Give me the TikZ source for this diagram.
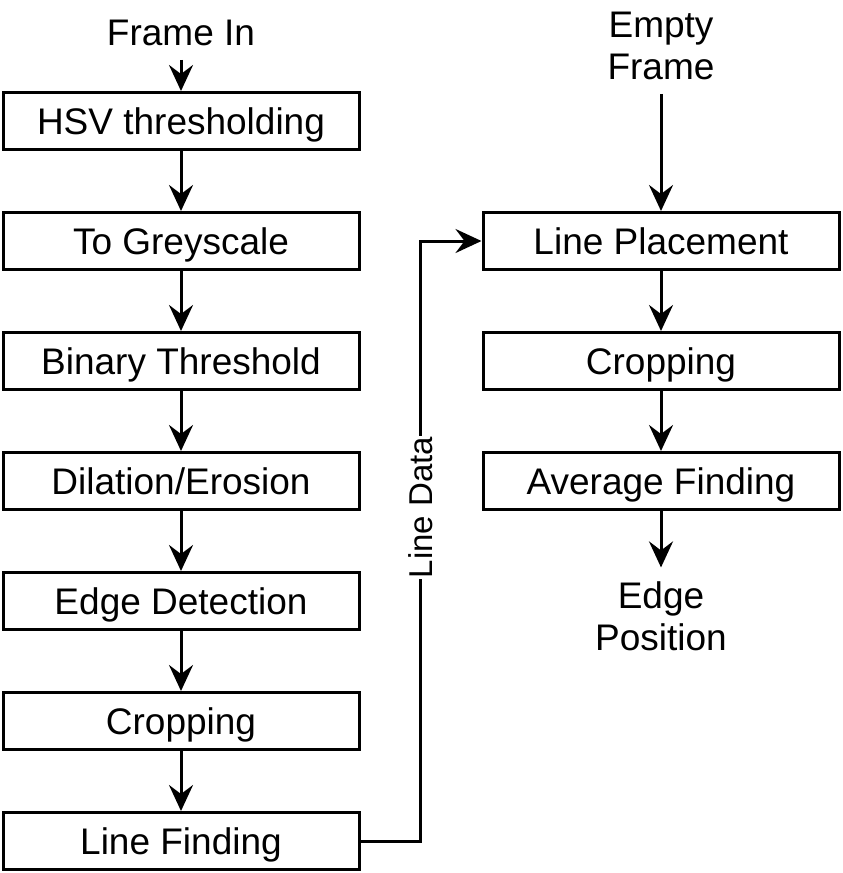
\documentclass[tikz,border=0pt]{standalone}
\usepackage{fontspec}
\setmainfont{Liberation Sans}
\usetikzlibrary{arrows.meta}

\begin{document}
\begin{tikzpicture}[x=1pt,y=-1pt,
        every node/.style={font=\fontsize{37}{42}\selectfont},
        stage/.style={draw,line width=3pt,minimum width=356pt,minimum height=57pt,inner sep=0pt,text height=26pt,text depth=0pt},
        term/.style={align=center,inner sep=0pt,outer ysep=14pt},
        flow/.style={line width=3pt,-{Stealth[length=26pt,width=24pt,inset=9pt]}},
        datalbl/.style={fill=white,inner xsep=1pt,inner ysep=0pt,rotate=90,font=\fontsize{33}{38}\selectfont}]
        \useasboundingbox (0,0) rectangle (843,873);
        % left column
        \node [term] (in) at (181,33) {Frame In};
        \node [stage] (hsv) at (181,121) {HSV thresholding};
        \node [stage] (grey) at (181,241) {To Greyscale};
        \node [stage] (bin) at (181,361) {Binary Threshold};
        \node [stage] (dil) at (181,481) {Dilation/Erosion};
        \node [stage] (edge) at (181,601) {Edge Detection};
        \node [stage] (crop1) at (181,721) {Cropping};
        \node [stage] (find) at (181,841) {Line Finding};
        % right column
        \node [term] (empty) at (661,46) {Empty\\Frame};
        \node [stage] (place) at (661,241) {Line Placement};
        \node [stage] (crop2) at (661,361) {Cropping};
        \node [stage] (avg) at (661,481) {Average Finding};
        \node [term] (pos) at (661,616) {Edge\\Position};
        % arrows
        \draw [flow] (in) -- (hsv);
        \draw [flow] (hsv) -- (grey);
        \draw [flow] (grey) -- (bin);
        \draw [flow] (bin) -- (dil);
        \draw [flow] (dil) -- (edge);
        \draw [flow] (edge) -- (crop1);
        \draw [flow] (crop1) -- (find);
        \draw [flow] (empty) -- (place);
        \draw [flow] (place) -- (crop2);
        \draw [flow] (crop2) -- (avg);
        \draw [flow] (avg) -- (pos);
        \draw [flow] (find.east) -- ++(60,0) |- node [pos=0.278,datalbl] {Line Data} (place.west);
\end{tikzpicture}
\end{document}
